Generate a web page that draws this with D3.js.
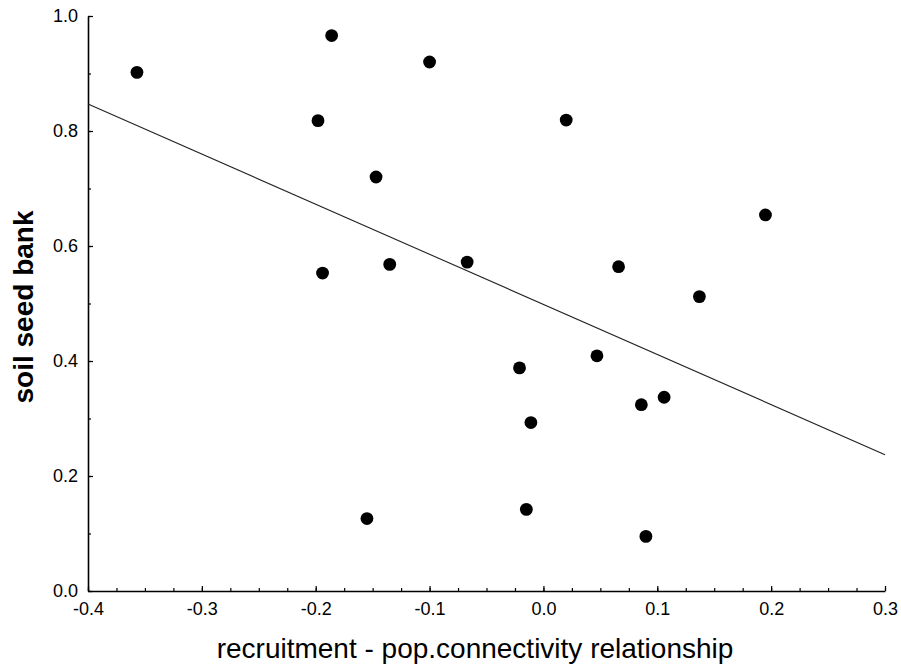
<!DOCTYPE html>
<html>
<head>
<meta charset="utf-8">
<script src="https://cdn.jsdelivr.net/npm/d3@7"></script>
<style>
  body { margin: 0; background: #fff; }
  .tick text { font-family: "Liberation Sans", Arial, sans-serif; font-size: 18px; fill: #000; }
  .label { font-family: "Liberation Sans", Arial, sans-serif; fill: #000; }
</style>
</head>
<body>
<svg id="chart"></svg>
<script>
// Data
let recruitment = [-0.357, -0.186, -0.100, -0.198, 0.020, -0.147, 0.195, -0.194, -0.135, -0.067,
                   0.066, 0.137, 0.047, -0.021, -0.011, 0.086, 0.106, -0.155, -0.015, 0.090];
let seedBank = [0.902, 0.966, 0.920, 0.818, 0.819, 0.720, 0.654, 0.553, 0.568, 0.572,
                0.564, 0.512, 0.409, 0.388, 0.293, 0.324, 0.337, 0.126, 0.142, 0.095];
// fitted line, end points
let fitX = [-0.4, 0.3];
let fitY = [0.847, 0.237];

let xTicks = [-0.4, -0.3, -0.2, -0.1, 0.0, 0.1, 0.2, 0.3];
let yTicks = [0.0, 0.2, 0.4, 0.6, 0.8, 1.0];

let width = 901;
let height = 664;
let margin = {left: 88, top: 16, right: 16, bottom: 73};

// plain hyphen instead of unicode minus
let fmt = (d) => d3.format('.1f')(d).replace('\u2212', '-');

let svg = d3.select('#chart')
    .attr('width', width)
    .attr('height', height);

let xScale = d3.scaleLinear()
    .domain([-0.4, 0.3])
    .range([margin.left, margin.left + 797]);
let yScale = d3.scaleLinear()
    .domain([0, 1])
    .range([height - margin.bottom, margin.top]);

// minor ticks
let xMinor = d3.range(-0.4, 0.3001, 0.025);
let yMinor = d3.range(0, 1.0001, 0.1);

svg.append('g')
    .attr('transform', 'translate(0,' + yScale(0) + ')')
    .call(d3.axisBottom(xScale).tickValues(xMinor).tickSize(-3).tickSizeOuter(0).tickFormat(''))
    .call(g => g.select('.domain').remove());
svg.append('g')
    .attr('transform', 'translate(' + xScale(-0.4) + ',0)')
    .call(d3.axisLeft(yScale).tickValues(yMinor).tickSize(-3).tickSizeOuter(0).tickFormat(''))
    .call(g => g.select('.domain').remove());

// main axes
svg.append('g')
    .attr('id', 'x-axis')
    .attr('transform', 'translate(0,' + yScale(0) + ')')
    .call(d3.axisBottom(xScale).tickValues(xTicks).tickSize(-5).tickSizeOuter(0)
        .tickPadding(11).tickFormat(fmt));
svg.append('g')
    .attr('id', 'y-axis')
    .attr('transform', 'translate(' + xScale(-0.4) + ',0)')
    .call(d3.axisLeft(yScale).tickValues(yTicks).tickSize(-5).tickSizeOuter(0)
        .tickPadding(10).tickFormat(fmt));

svg.selectAll('.domain').attr('stroke-width', 1.6);
svg.selectAll('.tick line').attr('stroke-width', 1.2);

// regression line
svg.append('line')
    .attr('x1', xScale(fitX[0]))
    .attr('y1', yScale(fitY[0]))
    .attr('x2', xScale(fitX[1]))
    .attr('y2', yScale(fitY[1]))
    .attr('stroke', '#222')
    .attr('stroke-width', 1.1);

// points
svg.selectAll('circle')
    .data(recruitment)
    .enter()
    .append('circle')
    .attr('cx', (d) => xScale(d))
    .attr('cy', (d, i) => yScale(seedBank[i]))
    .attr('r', 6.4)
    .attr('fill', '#000');

svg.append('text')
    .attr('class', 'label')
    .attr('x', 475)
    .attr('y', 658)
    .attr('text-anchor', 'middle')
    .style('font-size', '28px')
    .text('recruitment - pop.connectivity relationship');

svg.append('text')
    .attr('class', 'label')
    .attr('transform', 'translate(33,307) rotate(-90)')
    .attr('text-anchor', 'middle')
    .style('font-size', '28px')
    .style('font-weight', 'bold')
    .text('soil seed bank');
</script>
</body>
</html>
